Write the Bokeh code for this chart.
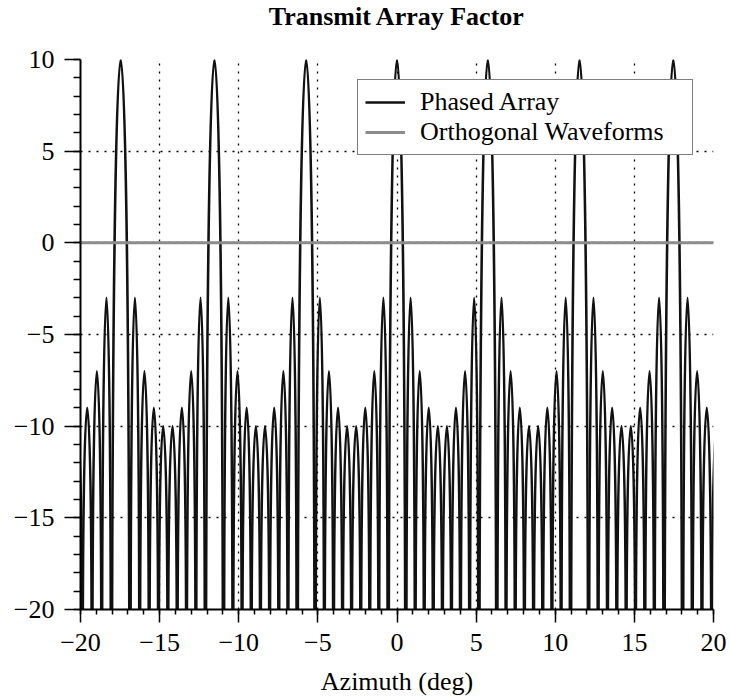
from bokeh.plotting import figure
from bokeh.models import (ColumnDataSource, FixedTicker, Range1d, Legend, LegendItem,
                          CustomJSTickFormatter, Title)
from bokeh.embed import file_html
from bokeh.resources import INLINE

# ---- data ----
# azimuths (deg) of the pattern nulls, left to right
null_az = [-20.49, -19.88, -19.27, -18.66, -18.06, -16.86, -16.26, -15.66,
           -15.07, -14.48, -13.89, -13.30, -12.71, -12.12, -10.95, -10.37,
           -9.79, -9.21, -8.63, -8.05, -7.47, -6.89, -6.32, -5.16,
           -4.59, -4.01, -3.44, -2.87, -2.29, -1.72, -1.15, -0.57,
           0.57, 1.15, 1.72, 2.29, 2.87, 3.44, 4.01, 4.59,
           5.16, 6.32, 6.89, 7.47, 8.05, 8.63, 9.21, 9.79,
           10.37, 10.95, 12.12, 12.71, 13.30, 13.89, 14.48, 15.07,
           15.66, 16.26, 16.86, 18.06, 18.66, 19.27, 19.88, 20.49]
# peak level (dB) of each lobe lying between two consecutive nulls
lobe_db = [-10, -9, -7, -3, 10,
           -3, -7, -9, -10, -10, -9, -7, -3, 10,
           -3, -7, -9, -10, -10, -9, -7, -3, 10,
           -3, -7, -9, -10, -10, -9, -7, -3, 10,
           -3, -7, -9, -10, -10, -9, -7, -3, 10,
           -3, -7, -9, -10, -10, -9, -7, -3, 10,
           -3, -7, -9, -10, -10, -9, -7, -3, 10,
           -3, -7, -9, -10]
ortho_az = [-20, 20]
ortho_db = [0, 0]

x_ticks = [-20, -15, -10, -5, 0, 5, 10, 15, 20]
x_tick_labels = ["\u221220", "\u221215", "\u221210", "\u22125", "0", "5", "10", "15", "20"]
y_ticks = [-20, -15, -10, -5, 0, 5, 10]
y_tick_labels = ["\u221220", "\u221215", "\u221210", "\u22125", "0", "5", "10"]
x_minor = list(range(-20, 21))
y_minor = list(range(-20, 11))

title_text = "Transmit Array Factor"
x_label = "Azimuth (deg)"
series_names = ["Phased Array", "Orthogonal Waveforms"]

# ---- rendering ----
FLOOR = -20.0
INSET = 0.05
CTRL = 0.1

x0, x1, cx0, cx1, cy, yf = [], [], [], [], [], []
for i, pk in enumerate(lobe_db):
    a, b = null_az[i], null_az[i + 1]
    w = b - a
    s, e = a + INSET * w, b - INSET * w
    x0.append(s)
    x1.append(e)
    cx0.append(s + CTRL * (e - s))
    cx1.append(e - CTRL * (e - s))
    cy.append(FLOOR + (pk - FLOOR) * 4.0 / 3.0)
    yf.append(FLOOR)
src = ColumnDataSource(dict(x0=x0, x1=x1, cx0=cx0, cx1=cx1, cy=cy, yf=yf))

FONT = "Liberation Serif"

p = figure(frame_width=633, frame_height=550,
           x_range=Range1d(-20, 20), y_range=Range1d(-20, 10),
           output_backend="svg", toolbar_location=None,
           min_border_left=80, min_border_right=17,
           min_border_top=59, min_border_bottom=86,
           title=None)
p.outline_line_color = None
p.background_fill_color = "white"
p.border_fill_color = "white"

# empty spacer next to the frame, then the real title above it
spacer = Title(text=" ", text_font_size="2px", standoff=22)
p.add_layout(spacer, "above")
main_title = Title(text=title_text, text_font=FONT, text_font_style="bold",
                   text_font_size="26px", align="center", vertical_align="top",
                   text_color="black", standoff=2)
p.add_layout(main_title, "above")

r1 = p.bezier(x0="x0", y0="yf", x1="x1", y1="yf", cx0="cx0", cy0="cy",
              cx1="cx1", cy1="cy", source=src, line_color="#111111", line_width=2.5)
r2 = p.line(ortho_az, ortho_db, line_color="#8c8c8c", line_width=3)

fmt_x = CustomJSTickFormatter(args=dict(tv=x_ticks, lab=x_tick_labels),
                              code="const i = tv.indexOf(tick); return i >= 0 ? lab[i] : String(tick);")
fmt_y = CustomJSTickFormatter(args=dict(tv=y_ticks, lab=y_tick_labels),
                              code="const i = tv.indexOf(tick); return i >= 0 ? lab[i] : String(tick);")

xa = p.xaxis[0]
xa.ticker = FixedTicker(ticks=x_ticks, minor_ticks=x_minor)
xa.formatter = fmt_x
xa.major_tick_out = 13
xa.minor_tick_out = 5
xa.major_label_standoff = 11
xa.axis_label = x_label
xa.axis_label_standoff = 13

ya = p.yaxis[0]
ya.ticker = FixedTicker(ticks=y_ticks, minor_ticks=y_minor)
ya.formatter = fmt_y
ya.major_tick_out = 16
ya.minor_tick_out = 7
ya.major_label_standoff = 10

for ax in (xa, ya):
    ax.major_tick_in = 0
    ax.minor_tick_in = 0
    ax.axis_line_width = 2
    ax.axis_line_color = "black"
    ax.major_tick_line_width = 1.5
    ax.minor_tick_line_width = 1.5
    ax.major_tick_line_color = "black"
    ax.minor_tick_line_color = "black"
    ax.major_label_text_font = FONT
    ax.major_label_text_font_size = "26px"
    ax.major_label_text_color = "black"
    ax.axis_label_text_font = FONT
    ax.axis_label_text_font_size = "26px"
    ax.axis_label_text_font_style = "normal"
    ax.axis_label_text_color = "black"

for g in (p.xgrid[0], p.ygrid[0]):
    g.grid_line_color = "black"
    g.grid_line_dash = "2 6"
    g.grid_line_width = 1.3
p.xgrid[0].ticker = FixedTicker(ticks=x_ticks)
p.ygrid[0].ticker = FixedTicker(ticks=y_ticks)

legend = Legend(items=[LegendItem(label=series_names[0], renderers=[r1]),
                       LegendItem(label=series_names[1], renderers=[r2])],
                location="top_right", margin=20, padding=7, spacing=0,
                glyph_width=40, label_standoff=15, label_width=265,
                border_line_color="black", border_line_width=1.5,
                background_fill_color="white", background_fill_alpha=1.0,
                label_text_font=FONT, label_text_font_size="26px",
                label_text_color="black")
p.add_layout(legend)

open("out.html", "w").write(file_html(p, INLINE))
